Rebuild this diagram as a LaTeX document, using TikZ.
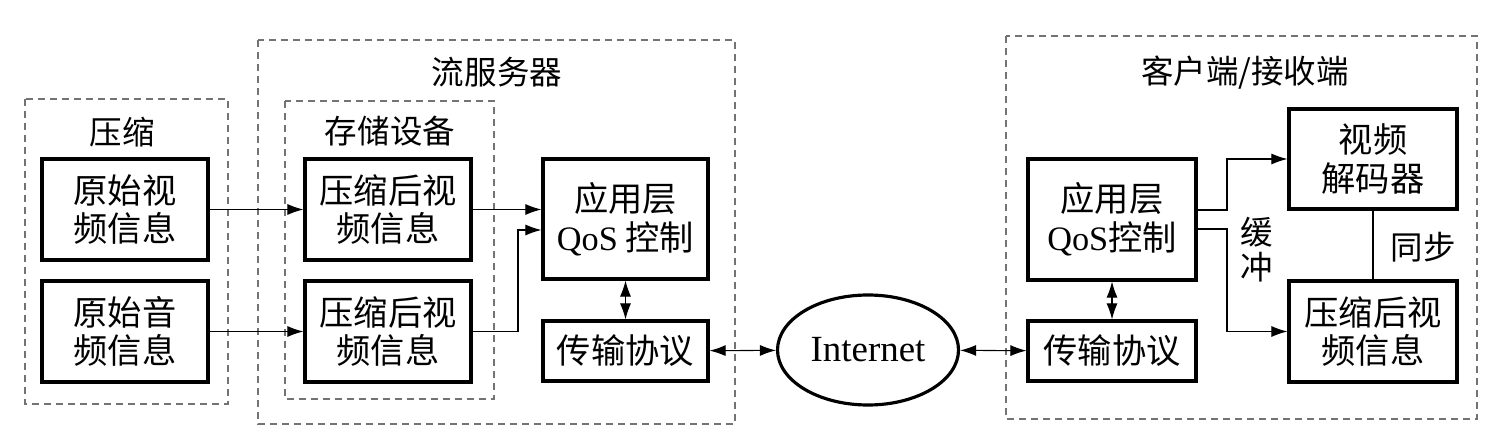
\documentclass[tikz,border=0pt]{standalone}
\usepackage{fontspec}
\setmainfont{Noto Sans CJK SC}
\newfontfamily\lat{Liberation Serif}
\usepackage{tikz}
\usepackage{xcolor}
\usetikzlibrary{calc}
\usetikzlibrary{positioning}
\usetikzlibrary{arrows.meta}
\usetikzlibrary{shapes.geometric}

\tikzset{
  blk/.style={draw, line width=1.8pt, align=center, inner sep=0pt,
    font=\fontsize{19.5}{22}\selectfont},
  grp/.style={draw=white!45!black, line width=0.8pt, dash pattern=on 1.4mm off 1mm},
  lbl/.style={font=\fontsize{18.5}{21}\selectfont, align=center},
  con/.style={line width=0.6pt, -{Latex[length=3.2mm,width=2.2mm]}},
  bicon/.style={line width=0.6pt, {Latex[length=3.2mm,width=2.2mm]}-{Latex[length=3.2mm,width=2.2mm]}}
}

\begin{document}
\begin{tikzpicture}
\useasboundingbox (0,0) rectangle (30.12,-8.64);

% dashed groups
\draw[grp] (0.5,-1.98) rectangle (4.56,-8.08);
\draw[grp] (5.16,-0.8) rectangle (14.7,-8.48);
\draw[grp] (5.7,-2.02) rectangle (9.88,-7.98);
\draw[grp] (20.12,-0.72) rectangle (29.54,-8.38);

\node[lbl] (tcomp) at (2.44,-2.64) {压缩};
\node[lbl] (tstore) at (7.8,-2.62) {存储设备};
\node[lbl] (tserver) at (9.94,-1.44) {流服务器};
\node[lbl] (tclient) at (24.9,-1.46) {客户端/接收端};

% server side
\node[blk, minimum width=3.32cm, minimum height=2.02cm] (rawv) at (2.5,-4.19) {原始视\\频信息};
\node[blk, minimum width=3.32cm, minimum height=2.02cm] (rawa) at (2.5,-6.63) {原始音\\频信息};
\node[blk, minimum width=3.32cm, minimum height=2.02cm] (compv) at (7.76,-4.19) {压缩后视\\频信息};
\node[blk, minimum width=3.32cm, minimum height=2.02cm] (compa) at (7.76,-6.63) {压缩后视\\频信息};
\node[blk, minimum width=3.3cm, minimum height=2.4cm] (sqos) at (12.51,-4.38) {应用层\\{\lat QoS} 控制};
\node[blk, minimum width=3.3cm, minimum height=1.2cm] (strans) at (12.51,-7.02) {传输协议};

\node[draw, ellipse, line width=1.8pt, minimum width=3.62cm, minimum height=2.2cm,
  font=\lat\fontsize{21}{24}\selectfont] (inet) at (17.36,-7.0) {Internet};

% client side
\node[blk, minimum width=3.36cm, minimum height=2.42cm] (cqos) at (22.24,-4.39) {应用层\\{\lat QoS}控制};
\node[blk, minimum width=3.36cm, minimum height=1.2cm] (ctrans) at (22.24,-7.02) {传输协议};
\node[blk, minimum width=3.36cm, minimum height=2.0cm] (dec) at (27.46,-3.18) {视频\\解码器};
\node[blk, minimum width=3.36cm, minimum height=2.02cm] (cbuf) at (27.46,-6.63) {压缩后视\\频信息};

\node[lbl, font=\fontsize{18.5}{20}\selectfont] (tbuf) at (25.14,-4.99) {缓\\冲};
\node[lbl] (tsync) at (28.46,-4.94) {同步};

% connectors
\draw[con] (rawv) -- (compv);
\draw[con] (rawa) -- (compa);
\draw[con] (compv.east) -- (sqos.west |- compv.east);
\coordinate (kink) at (10.36,-4.6);
\draw[con] (compa.east) -| (kink) -- (sqos.west |- kink);
\draw[bicon] (sqos) -- (strans);
\draw[bicon] (strans) -- (inet);
\draw[bicon] (inet) -- (ctrans);
\draw[bicon] (cqos) -- (ctrans);

\coordinate (up) at (24.54,-4.2);
\coordinate (dn) at (24.54,-4.58);
\draw[con] (cqos.east |- up) -- (up) |- (dec.west);
\draw[con] (cqos.east |- dn) -- (dn) |- (cbuf.west);
\draw[line width=0.6pt] (dec) -- (cbuf);

\end{tikzpicture}
\end{document}
